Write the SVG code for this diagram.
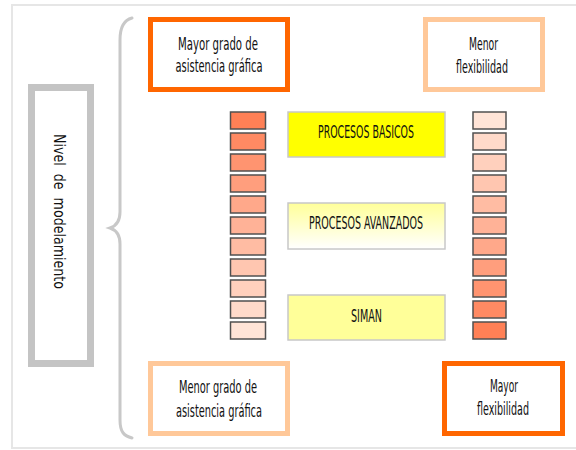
<svg xmlns="http://www.w3.org/2000/svg" width="576" height="450" viewBox="0 0 576 450">
<defs>
<linearGradient id="gAv" x1="0" y1="0" x2="0" y2="1">
<stop offset="0" stop-color="#ffff99"/>
<stop offset="1" stop-color="#ffffff"/>
</linearGradient>
<style>
.frame{fill:#ffffff;stroke:#e6e6e6;stroke-width:2}
.lbl{font-family:"Liberation Sans Narrow","DejaVu Sans Condensed","Liberation Sans",sans-serif;font-size:17px;fill:#111;text-anchor:middle}
.dark{fill:#ffffff;stroke:#ff6600;stroke-width:5}
.light{fill:#ffffff;stroke:#ffc899;stroke-width:5}
.proc{stroke:#c8c8c8;stroke-width:1.5}
.bar{stroke:#505050;stroke-width:1.5}
.brace{fill:none;stroke:#c8c8c8;stroke-width:3;stroke-linecap:round}
</style>
</defs>
<rect class="frame" x="12" y="5" width="600" height="443"/>

<g id="nivel">
<rect x="31.5" y="87.5" width="59" height="276" fill="#ffffff" stroke="#c4c4c4" stroke-width="7"/>
<text transform="translate(54,134) rotate(90)" x="0" y="0" font-family="DejaVu Sans,Verdana,sans-serif" font-size="15" fill="#111" style="white-space:pre" textLength="155" lengthAdjust="spacingAndGlyphs">Nivel  de  modelamiento</text>
</g>

<g id="connectors">
<path class="brace" d="M132,18 C124,20 120,28 120,40 L120,212 C120,222 116,226 110,228 C116,230 120,234 120,244 L120,420 C120,432 124,436 132,438"/>
</g>

<g id="mayor-asistencia">
<rect class="dark" x="150.5" y="19.5" width="137" height="70"/>
<text class="lbl" x="218" y="50" textLength="80" lengthAdjust="spacingAndGlyphs">Mayor grado de</text>
<text class="lbl" x="219" y="72" textLength="87" lengthAdjust="spacingAndGlyphs">asistencia gráfica</text>
</g>

<g id="menor-flexibilidad">
<rect class="light" x="425.5" y="19.5" width="117" height="70"/>
<text class="lbl" x="483.5" y="50" textLength="29" lengthAdjust="spacingAndGlyphs">Menor</text>
<text class="lbl" x="482" y="73" textLength="52" lengthAdjust="spacingAndGlyphs">flexibilidad</text>
</g>

<g id="menor-asistencia">
<rect class="light" x="150.5" y="363.5" width="137" height="70"/>
<text class="lbl" x="218" y="393" textLength="78" lengthAdjust="spacingAndGlyphs">Menor grado de</text>
<text class="lbl" x="219" y="417" textLength="86" lengthAdjust="spacingAndGlyphs">asistencia gráfica</text>
</g>

<g id="mayor-flexibilidad">
<rect class="dark" x="444.5" y="363.5" width="118" height="70"/>
<text class="lbl" x="504" y="392" textLength="28" lengthAdjust="spacingAndGlyphs">Mayor</text>
<text class="lbl" x="503" y="415" textLength="52" lengthAdjust="spacingAndGlyphs">flexibilidad</text>
</g>

<g id="procesos-basicos">
<rect class="proc" x="288" y="112" width="157" height="45" fill="#ffff00"/>
<text class="lbl" x="366" y="138" textLength="96" lengthAdjust="spacingAndGlyphs">PROCESOS BASICOS</text>
</g>

<g id="procesos-avanzados">
<rect class="proc" x="288" y="203" width="157" height="46" fill="url(#gAv)"/>
<text class="lbl" x="366" y="229" textLength="114" lengthAdjust="spacingAndGlyphs">PROCESOS AVANZADOS</text>
</g>

<g id="siman">
<rect class="proc" x="288" y="295" width="157" height="45" fill="#ffff99"/>
<text class="lbl" x="366.5" y="322" textLength="31" lengthAdjust="spacingAndGlyphs">SIMAN</text>
</g>

<g id="barra-izquierda">
<rect class="bar" x="230.5" y="112" width="35" height="17" fill="#ff8056"/>
<rect class="bar" x="230.5" y="133" width="35" height="17" fill="#ff8a63"/>
<rect class="bar" x="230.5" y="154" width="35" height="17" fill="#ff9470"/>
<rect class="bar" x="230.5" y="175" width="35" height="17" fill="#ff9e7d"/>
<rect class="bar" x="230.5" y="196" width="35" height="17" fill="#ffa88a"/>
<rect class="bar" x="230.5" y="217" width="35" height="17" fill="#ffb297"/>
<rect class="bar" x="230.5" y="238" width="35" height="17" fill="#ffbca3"/>
<rect class="bar" x="230.5" y="259" width="35" height="17" fill="#ffc6b0"/>
<rect class="bar" x="230.5" y="280" width="35" height="17" fill="#ffd0bd"/>
<rect class="bar" x="230.5" y="301" width="35" height="17" fill="#ffdaca"/>
<rect class="bar" x="230.5" y="322" width="35" height="17" fill="#ffe4d7"/>
</g>

<g id="barra-derecha">
<rect class="bar" x="473" y="112" width="33" height="17" fill="#ffe4d7"/>
<rect class="bar" x="473" y="133" width="33" height="17" fill="#ffdaca"/>
<rect class="bar" x="473" y="154" width="33" height="17" fill="#ffd0bd"/>
<rect class="bar" x="473" y="175" width="33" height="17" fill="#ffc6b0"/>
<rect class="bar" x="473" y="196" width="33" height="17" fill="#ffbca3"/>
<rect class="bar" x="473" y="217" width="33" height="17" fill="#ffb297"/>
<rect class="bar" x="473" y="238" width="33" height="17" fill="#ffa88a"/>
<rect class="bar" x="473" y="259" width="33" height="17" fill="#ff9e7d"/>
<rect class="bar" x="473" y="280" width="33" height="17" fill="#ff9470"/>
<rect class="bar" x="473" y="301" width="33" height="17" fill="#ff8a63"/>
<rect class="bar" x="473" y="322" width="33" height="17" fill="#ff8056"/>
</g>
</svg>
